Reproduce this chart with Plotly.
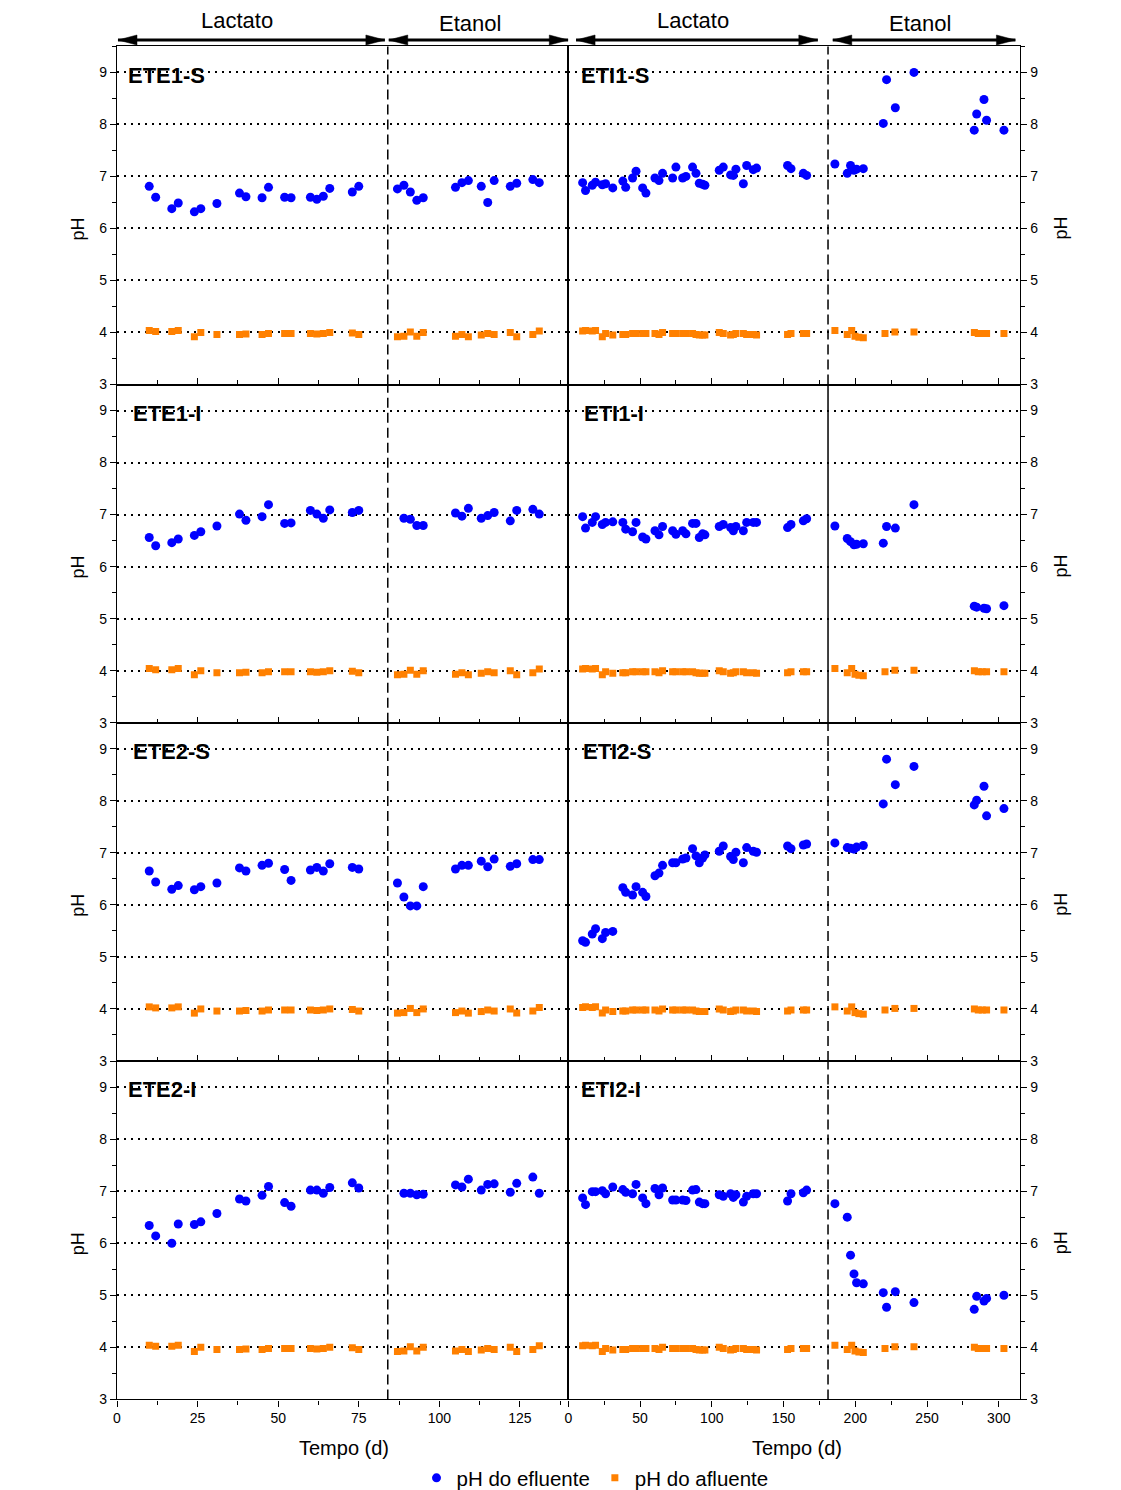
import plotly.graph_objects as go
from plotly.subplots import make_subplots

# ---------------- data ----------------
# Left column (ETE reactors): time in days
t_ete_lac = [10, 12, 17, 19, 24, 26, 31, 38, 40, 45, 47, 52, 54, 60, 62, 64, 66, 73, 75]
t_ete_eth = [87, 89, 91, 93, 95, 105, 107, 109, 113, 115, 117, 122, 124, 129, 131]

ete1s_lac = [6.81, 6.60, 6.38, 6.49, 6.32, 6.38, 6.48, 6.68, 6.61, 6.59, 6.79, 6.60, 6.59, 6.60, 6.56, 6.62, 6.77, 6.70, 6.81]
ete1s_eth = [6.76, 6.83, 6.70, 6.54, 6.59, 6.79, 6.88, 6.92, 6.81, 6.50, 6.92, 6.81, 6.87, 6.94, 6.88]
ete1i_lac = [6.56, 6.40, 6.46, 6.53, 6.60, 6.67, 6.78, 7.01, 6.89, 6.96, 7.19, 6.83, 6.84, 7.08, 7.01, 6.93, 7.09, 7.04, 7.08]
ete1i_eth = [None, 6.93, 6.91, 6.79, 6.79, 7.03, 6.97, 7.12, 6.93, 6.98, 7.04, 6.88, 7.08, 7.10, 7.01]
ete2s_lac = [6.65, 6.44, 6.30, 6.37, 6.29, 6.35, 6.42, 6.71, 6.65, 6.76, 6.80, 6.68, 6.47, 6.67, 6.72, 6.65, 6.79, 6.72, 6.69]
ete2s_eth = [6.42, 6.15, 5.98, 5.98, 6.35, 6.69, 6.76, 6.76, 6.84, 6.73, 6.88, 6.74, 6.79, 6.87, 6.87]
ete2i_lac = [6.34, 6.14, 6.00, 6.37, 6.36, 6.41, 6.57, 6.85, 6.81, 6.92, 7.09, 6.78, 6.71, 7.02, 7.02, 6.96, 7.07, 7.16, 7.06]
ete2i_eth = [None, 6.96, 6.96, 6.93, 6.94, 7.12, 7.08, 7.23, 7.02, 7.13, 7.14, 6.98, 7.15, 7.27, 6.96]

inf_ete_lac = [4.04, 4.02, 4.02, 4.04, 3.92, 4.00, 3.96, 3.96, 3.97, 3.96, 3.98, 3.98, 3.98, 3.98, 3.97, 3.98, 4.00, 3.99, 3.96]
inf_ete_eth = [3.92, 3.93, 4.01, 3.93, 4.00, 3.93, 3.96, 3.92, 3.95, 3.98, 3.96, 4.00, 3.92, 3.96, 4.03]

# Right column (ETI reactors)
t_eti_lac = [10, 12, 16.7, 19, 23.7, 26, 31, 38, 40, 44.8, 47.2, 51.8, 54.1, 60.4, 63.2, 65.7, 72.7, 75,
             79.7, 82, 86.6, 89, 91.3, 93.6, 95.2, 105.2, 108, 113.1, 115, 116.8, 122, 124.3, 128.9, 131.2,
             152.8, 155.2, 163.8, 166.1]
t_eti_eth = [185.8, 194.4, 196.7, 199.1, 200.9, 205.6, 219.5, 221.8, 227.9, 240.9, 282.9, 284.6, 289.7, 291.5, 303.6]

eti1s_lac = [6.88, 6.73, 6.83, 6.89, 6.84, 6.86, 6.78, 6.91, 6.79, 6.97, 7.10, 6.78, 6.68, 6.97, 6.92, 7.06, 6.97, 7.18,
             6.97, 7.00, 7.18, 7.06, 6.87, 6.85, 6.83, 7.12, 7.18, 7.03, 7.02, 7.14, 6.86, 7.21, 7.13, 7.16,
             7.21, 7.15, 7.06, 7.02]
eti1s_eth = [7.24, 7.06, 7.21, 7.12, 7.14, 7.15, 8.02, 8.86, 8.32, 9.00, 7.89, 8.20, 8.48, 8.08, 7.89]
eti1i_lac = [6.96, 6.74, 6.85, 6.96, 6.81, 6.85, 6.86, 6.85, 6.72, 6.67, 6.85, 6.57, 6.53, 6.69, 6.61, 6.77, 6.69, 6.62,
             6.69, 6.63, 6.83, 6.83, 6.56, 6.63, 6.61, 6.77, 6.81, 6.75, 6.69, 6.77, 6.69, 6.85, 6.85, 6.85,
             6.75, 6.81, 6.88, 6.92]
eti1i_eth = [6.78, 6.54, 6.48, 6.42, 6.43, 6.44, 6.45, 6.77, 6.74, 7.19, 5.24, 5.22, 5.20, 5.19, 5.25]
eti2s_lac = [5.31, 5.28, 5.44, 5.54, 5.35, 5.47, 5.49, 6.33, 6.24, 6.19, 6.35, 6.24, 6.16, 6.56, 6.61, 6.76, 6.81, 6.81,
             6.88, 6.90, 7.08, 6.94, 6.81, 6.90, 6.96, 7.03, 7.13, 6.93, 6.87, 7.01, 6.81, 7.10, 7.03, 7.01,
             7.13, 7.08, 7.15, 7.17]
eti2s_eth = [7.19, 7.10, 7.09, 7.07, 7.11, 7.14, 7.94, 8.80, 8.31, 8.66, 7.92, 8.01, 8.28, 7.71, 7.85]
eti2i_lac = [6.87, 6.74, 6.99, 6.99, 7.01, 6.95, 7.08, 7.03, 6.98, 6.95, 7.13, 6.87, 6.76, 7.05, 6.93, 7.06, 6.83, 6.83,
             6.83, 6.82, 7.02, 7.03, 6.79, 6.76, 6.76, 6.93, 6.90, 6.95, 6.88, 6.93, 6.79, 6.90, 6.95, 6.95,
             6.81, 6.95, 6.97, 7.02]
eti2i_eth = [6.76, 6.50, 5.77, 5.41, 5.24, 5.22, 5.05, 4.77, 5.07, 4.86, 4.73, 4.98, 4.89, 4.94, 5.00]

inf_eti_lac = [4.03, 4.04, 4.03, 4.04, 3.92, 3.98, 3.95, 3.96, 3.96, 3.98, 3.98, 3.98, 3.98, 3.98, 3.96, 4.00, 3.98, 3.98,
               3.98, 3.98, 3.98, 3.96, 3.95, 3.95, 3.95, 4.00, 3.98, 3.95, 3.96, 3.98, 3.98, 3.96, 3.96, 3.95,
               3.96, 3.98, 3.98, 3.98]
t_inf_eti_eth = [185.8, 194.4, 197.5, 199.8, 202.5, 205.6, 220.7, 227.6, 240.9, 283.0, 285.7, 288.5, 291.5, 303.6]
inf_eti_eth = [4.04, 3.96, 4.04, 3.93, 3.91, 3.90, 3.98, 4.01, 4.01, 4.00, 3.98, 3.98, 3.98, 3.98]

panel_names = [["ETE1-S", "ETI1-S"], ["ETE1-I", "ETI1-I"], ["ETE2-S", "ETI2-S"], ["ETE2-I", "ETI2-I"]]
left_eff = [(ete1s_lac, ete1s_eth), (ete1i_lac, ete1i_eth), (ete2s_lac, ete2s_eth), (ete2i_lac, ete2i_eth)]
right_eff = [(eti1s_lac, eti1s_eth), (eti1i_lac, eti1i_eth), (eti2s_lac, eti2s_eth), (eti2i_lac, eti2i_eth)]

phase_change = [84, 181]      # day of substrate change (left, right)
x_max = [140, 315]
phase_labels = ["Lactato", "Etanol"]

BLUE = "#0000FF"
ORANGE = "#FF8000"
FONT = "Liberation Sans, Arial, sans-serif"

W, H = 1121, 1490
fig = make_subplots(rows=4, cols=2, horizontal_spacing=0, vertical_spacing=0)

for r in range(4):
    for c in range(2):
        if c == 0:
            tx = t_ete_lac + t_ete_eth
            ty = left_eff[r][0] + left_eff[r][1]
            ix = t_ete_lac + t_ete_eth
            iy = inf_ete_lac + inf_ete_eth
        else:
            tx = t_eti_lac + t_eti_eth
            ty = right_eff[r][0] + right_eff[r][1]
            ix = t_eti_lac + t_inf_eti_eth
            iy = inf_eti_lac + inf_eti_eth
        first = (r == 0 and c == 0)
        fig.add_trace(go.Scatter(x=ix, y=iy, mode="markers", name="pH do afluente",
                                 marker=dict(symbol="square", size=7, color=ORANGE),
                                 showlegend=first, legendrank=2), row=r + 1, col=c + 1)
        fig.add_trace(go.Scatter(x=tx, y=ty, mode="markers", name="pH do efluente",
                                 marker=dict(symbol="circle", size=9, color=BLUE),
                                 showlegend=first, legendrank=1), row=r + 1, col=c + 1)

# geometry (pixels -> paper)
col_px = [(117, 568.3), (568.3, 1020.3)]
row_px = [(46.4, 384.5), (384.5, 722.7), (722.7, 1061), (1061, 1399.4)]

for r in range(4):
    for c in range(2):
        idx = r * 2 + c + 1
        xs = "" if idx == 1 else str(idx)
        xd = [col_px[c][0] / W, col_px[c][1] / W]
        yd = [1 - row_px[r][1] / H, 1 - row_px[r][0] / H]
        bottom = (r == 3)
        fig.layout["xaxis" + xs].update(
            domain=xd, range=[0, x_max[c]], tick0=0, dtick=25 if c == 0 else 50,
            showline=True, linecolor="black", linewidth=1.2, mirror=True,
            showgrid=False, zeroline=False,
            ticks="outside" if bottom else "inside", ticklen=6, tickwidth=1.2, tickcolor="black",
            showticklabels=bottom,
            tickfont=dict(family=FONT, size=14, color="black"),
            minor=dict(ticks="outside" if bottom else "inside", ticklen=4, tickwidth=1.2,
                       tickcolor="black", dtick=12.5 if c == 0 else 25, showgrid=False),
        )
        fig.layout["yaxis" + xs].update(
            domain=yd, range=[3, 9.5], tick0=3, dtick=1,
            side="left" if c == 0 else "right",
            showline=True, linecolor="black", linewidth=1.2, mirror=True,
            showgrid=True, gridcolor="black", griddash="2px,5px", gridwidth=1.6,
            zeroline=False,
            ticks="outside", ticklen=6, tickwidth=1.2, tickcolor="black",
            tickfont=dict(family=FONT, size=14, color="black"),
            minor=dict(ticks="outside", ticklen=4, tickwidth=1.2, tickcolor="black",
                       dtick=0.5, showgrid=False),
        )
        # vertical phase separator
        fig.add_shape(type="line", xref="x" + xs, yref="y" + xs + " domain",
                      x0=phase_change[c], x1=phase_change[c], y0=0, y1=1,
                      line=dict(color="black", width=1.5,
                                dash="solid" if (r == 1 and c == 1) else "10px,5px"))
        # panel name
        off = {"ETE1-S": 0.021, "ETE1-I": 0.031, "ETE2-S": 0.031, "ETE2-I": 0.021,
               "ETI1-S": 0.024, "ETI1-I": 0.030, "ETI2-S": 0.027, "ETI2-I": 0.024}[panel_names[r][c]]
        fig.add_annotation(text="<b>" + panel_names[r][c] + "</b>", xref="x" + xs + " domain",
                           yref="y" + xs, x=off, y=8.95, xanchor="left", yanchor="middle",
                           showarrow=False, font=dict(family=FONT, size=22, color="black"))
        # pH axis titles
        fig.add_annotation(text="pH", xref="paper", yref="y" + xs,
                           x=(78 if c == 0 else 1061) / W, y=6, textangle=-90,
                           showarrow=False, xanchor="center", yanchor="middle",
                           font=dict(family=FONT, size=18, color="black"))

# bottom axis titles
for xp in (344, 797):
    fig.add_annotation(text="Tempo (d)", xref="paper", yref="paper", x=xp / W, y=1 - 1448 / H,
                       showarrow=False, xanchor="center", yanchor="middle",
                       font=dict(family=FONT, size=20, color="black"))

# phase arrows on top
arrow_y = 1 - 40 / H
segments = [("x", 0.3, 83.1, 37.2), ("x", 84.3, 140, 109.5),
            ("x2", 5.4, 173.9, 86.9), ("x2", 184.3, 311.6, 245.0)]
for i, (xr, a, b, tx) in enumerate(segments):
    fig.add_shape(type="line", xref=xr, yref="paper", x0=a, x1=b, y0=arrow_y, y1=arrow_y,
                  line=dict(color="black", width=3))
    fig.add_shape(type="path", xref=xr, yref="paper", xsizemode="pixel", ysizemode="pixel",
                  xanchor=a, yanchor=arrow_y, path="M0,0 L19,5 L19,-5 Z",
                  fillcolor="black", line=dict(color="black", width=0.5))
    fig.add_shape(type="path", xref=xr, yref="paper", xsizemode="pixel", ysizemode="pixel",
                  xanchor=b, yanchor=arrow_y, path="M0,0 L-19,5 L-19,-5 Z",
                  fillcolor="black", line=dict(color="black", width=0.5))
    fig.add_annotation(text=phase_labels[i % 2], xref=xr, yref="paper", x=tx,
                       y=1 - (21 if i % 2 == 0 else 23) / H, showarrow=False,
                       xanchor="center", yanchor="middle",
                       font=dict(family=FONT, size=22, color="black"))

fig.update_layout(
    width=W, height=H,
    margin=dict(l=0, r=0, t=0, b=0, autoexpand=False),
    paper_bgcolor="white", plot_bgcolor="white",
    font=dict(family=FONT, color="black"),
    legend=dict(orientation="h", x=595 / W, y=1 - 1478 / H, xanchor="center", yanchor="middle",
                font=dict(family=FONT, size=20.5, color="black"), bgcolor="rgba(0,0,0,0)",
                itemwidth=30, traceorder="normal"),
)

fig.write_html("out.html", config={"displayModeBar": False},
               post_script="document.body.style.margin='0px';document.body.style.overflow='hidden';")
